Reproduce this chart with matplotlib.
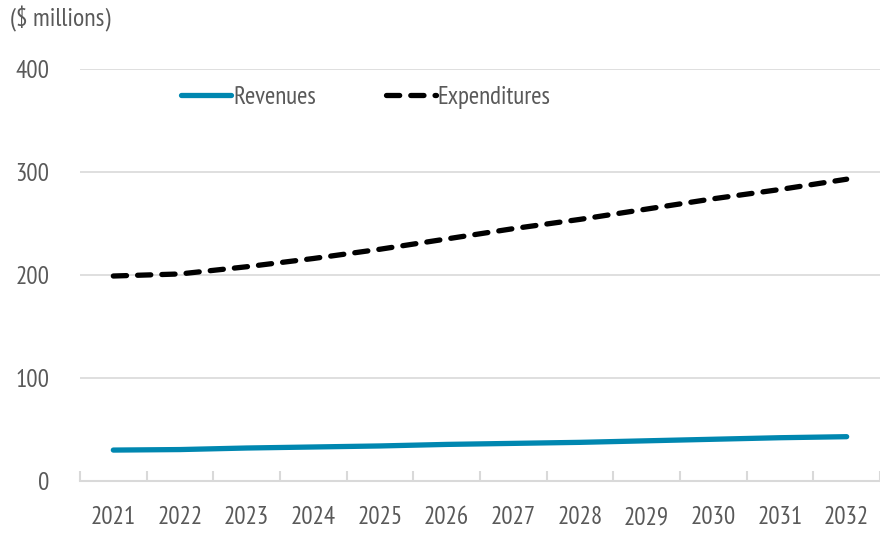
import matplotlib.pyplot as plt

plt.rcParams['font.family'] = ['PT Sans Narrow', 'DejaVu Sans']

years = ['2021', '2022', '2023', '2024', '2025', '2026',
         '2027', '2028', '2029', '2030', '2031', '2032']
revenues = [30, 30.5, 32, 33, 34, 35.5, 36.5, 37.5, 39, 40.5, 42, 43]
expenditures = [199, 201, 208, 216, 225, 235, 245, 254, 264, 274, 283, 293]

grey = '#595959'
x = list(range(len(years)))

fig = plt.figure(figsize=(8.8, 5.34), dpi=100)
ax = fig.add_axes([0.0909, 0.0993, 0.9091, 0.7715])

ax.plot(x, revenues, color='#0087B0', lw=3.8, solid_capstyle='round', label='Revenues')
ax.plot(x, expenditures, color='black', lw=3.8, dashes=(2.5, 2.1),
        dash_capstyle='round', label='Expenditures')

ax.set_ylim(0, 400)
ax.set_xlim(-0.5, 11.5)
ax.set_yticks([0, 100, 200, 300, 400])
ax.set_xticks(x)
ax.set_xticklabels(years)
ax.set_xticks([i - 0.5 for i in range(13)], minor=True)
ax.grid(axis='y', color='#D9D9D9', lw=1.2)
ax.set_axisbelow(True)

for s in ['top', 'right', 'left']:
    ax.spines[s].set_visible(False)
ax.spines['bottom'].set_color('#D9D9D9')
ax.spines['bottom'].set_linewidth(1.5)

ax.tick_params(axis='x', which='major', length=0, pad=18, labelsize=18, labelcolor=grey)
ax.tick_params(axis='x', which='minor', direction='in', length=7, width=1.5, color='#D9D9D9')
ax.tick_params(axis='y', length=0, pad=22, labelsize=18, labelcolor=grey)

fig.text(0.011, 0.965, '($ millions)', fontsize=18.5, color=grey, va='center', ha='left')

leg = ax.legend(loc='upper left', bbox_to_anchor=(0.098, 1.013), ncol=2, frameon=False,
                fontsize=18, handlelength=2.0, handletextpad=0.08, columnspacing=2.8,
                labelcolor=grey)

fig.savefig('out.png', dpi=100)
